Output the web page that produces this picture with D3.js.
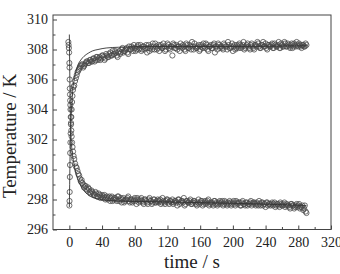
<!DOCTYPE html>
<html lang="en">
<head>
<meta charset="UTF-8">
<title>Temperature vs time</title>
<style>
  body { margin: 0; background: #fff; }
  svg { display: block; font-family: "Liberation Serif", "DejaVu Serif", serif; }
  .tick text { font-family: "Liberation Serif", serif; font-size: 14px; fill: #222; }
  .title { font-size: 19px; fill: #222; }
</style>
</head>
<body>
<script src="https://d3js.org/d3.v7.min.js"></script>
<script>
// early (fast) part of each run
const heatEarlyTime = [0, 0.2, 0.4, 0.6, 0.8, 1.0, 1.3, 1.6, 2.0, 2.4, 2.8, 3.3, 3.8, 4.4, 5.0];
const heatEarlyTemp = [297.6, 297.9, 298.5, 299.5, 300.3, 301.1, 301.8, 302.4, 303.0, 303.5, 304.0, 304.5, 304.9, 305.3, 305.5];
const coolEarlyTime = [-1.2, -0.9, -0.6, -0.3, 0, 0.2, 0.4, 0.6, 0.8, 1.0, 1.2, 1.4, 1.7, 2.0, 2.4, 2.8, 3.3, 3.9, 4.5, 5.2];
const coolEarlyTemp = [308.5, 308.3, 308.1, 307.8, 307.1, 306.8, 306.0, 305.4, 305.0, 304.6, 304.3, 304.0, 303.5, 303.1, 302.6, 302.2, 301.8, 301.5, 301.2, 300.9];

// later part: readings at even seconds (6..290) and odd seconds (7..289)
const evenTime = d3.range(6, 291, 2);
const oddTime = d3.range(7, 290, 2);
const heatTempEven = [
  305.6, 306.1, 306.5, 306.7, 306.9, 307.0, 306.9, 307.1, 307.2, 307.1,
  307.3, 307.2, 307.4, 307.3, 307.5, 307.4, 307.3, 307.6, 307.5, 307.4,
  307.6, 307.5, 307.8, 307.6, 307.7, 307.9, 307.6, 307.8, 307.7, 308.0,
  307.8, 307.9, 308.1, 307.7, 308.0, 308.2, 307.9, 308.1, 308.0, 308.3,
  308.1, 307.9, 308.2, 308.0, 308.3, 308.1, 307.9, 308.2, 308.4, 308.0,
  308.2, 308.1, 307.9, 308.3, 308.1, 308.2, 308.0, 308.4, 308.1, 308.2,
  307.6, 308.3, 308.1, 308.0, 308.2, 308.4, 308.1, 308.2, 307.9, 308.3,
  308.1, 308.2, 308.5, 308.0, 308.2, 308.1, 308.3, 308.0, 308.2, 308.4,
  308.1, 308.3, 307.9, 308.2, 308.1, 308.3, 307.8, 308.2, 308.4, 308.1,
  308.2, 308.0, 308.3, 308.2, 308.5, 308.1, 308.2, 307.9, 308.3, 308.1,
  308.2, 308.4, 308.1, 308.3, 308.0, 308.2, 308.4, 308.1, 308.3, 308.2,
  308.0, 308.3, 308.5, 308.2, 308.1, 308.3, 308.2, 308.4, 308.0, 308.3,
  308.2, 308.4, 308.1, 308.3, 308.2, 308.5, 308.1, 308.3, 308.2, 308.4,
  308.2, 308.3, 308.1, 308.4, 308.2, 308.3, 308.5, 308.2, 308.3, 308.1,
  308.3, 308.2, 308.3
];
const heatTempOdd = [
  305.9, 306.3, 306.6, 306.8, 307.0, 306.8, 307.0, 307.2, 307.1, 307.3,
  307.2, 307.4, 307.2, 307.5, 307.3, 307.5, 307.4, 307.6, 307.3, 307.7,
  307.5, 307.7, 307.6, 307.9, 307.7, 307.8, 307.5, 307.9, 307.8, 308.1,
  307.9, 308.0, 307.8, 308.2, 308.0, 308.1, 308.3, 307.9, 308.2, 308.0,
  308.3, 308.0, 308.2, 308.1, 307.8, 308.3, 308.1, 308.0, 308.2, 308.4,
  308.0, 308.3, 308.2, 308.1, 308.4, 307.9, 308.2, 308.3, 308.0, 308.2,
  308.4, 308.1, 308.3, 308.2, 307.9, 308.2, 308.3, 308.0, 308.4, 308.1,
  308.3, 308.0, 308.2, 308.4, 308.1, 308.2, 307.9, 308.3, 308.1, 308.2,
  308.4, 308.0, 308.2, 308.3, 308.1, 308.4, 308.2, 308.0, 308.3, 308.2,
  308.1, 308.4, 308.2, 308.0, 308.3, 308.1, 308.4, 308.2, 308.0, 308.3,
  308.1, 308.3, 308.2, 308.5, 308.1, 308.3, 308.2, 308.0, 308.4, 308.1,
  308.3, 308.2, 308.4, 308.1, 308.3, 308.5, 308.2, 308.1, 308.3, 308.2,
  308.3, 308.1, 308.4, 308.2, 308.3, 308.1, 308.4, 308.2, 308.5, 308.2,
  308.4, 308.2, 308.3, 308.1, 308.4, 308.2, 308.3, 308.4, 308.2, 308.3,
  308.2, 308.4
];
const coolTempEven = [
  300.7, 300.2, 299.9, 299.6, 299.2, 299.1, 298.8, 298.9, 298.6, 298.7,
  298.4, 298.5, 298.3, 298.5, 298.2, 298.4, 298.1, 298.3, 298.2, 298.0,
  298.2, 298.1, 297.9, 298.2, 298.0, 298.1, 297.9, 298.2, 298.0, 297.8,
  298.1, 297.9, 298.0, 298.2, 297.8, 298.0, 297.9, 298.1, 297.7, 298.0,
  297.9, 298.1, 297.8, 298.0, 297.9, 297.7, 298.1, 297.9, 297.8, 298.0,
  297.8, 298.0, 297.9, 297.7, 298.1, 297.8, 297.9, 298.0, 297.7, 297.9,
  298.0, 297.8, 297.9, 297.6, 298.0, 297.8, 297.9, 298.1, 297.7, 297.9,
  297.8, 298.0, 297.7, 297.9, 297.8, 297.6, 298.0, 297.8, 297.9, 297.7,
  297.9, 297.8, 298.0, 297.7, 297.8, 297.6, 297.9, 297.8, 297.7, 297.9,
  297.8, 297.6, 297.9, 297.7, 297.8, 297.9, 297.6, 297.8, 297.7, 297.9,
  297.7, 297.8, 297.6, 297.9, 297.7, 297.8, 297.6, 297.7, 297.9, 297.7,
  297.8, 297.6, 297.7, 297.9, 297.6, 297.8, 297.7, 297.5, 297.8, 297.7,
  297.6, 297.8, 297.7, 297.5, 297.7, 297.6, 297.8, 297.6, 297.7, 297.5,
  297.7, 297.6, 297.4, 297.7, 297.6, 297.5, 297.7, 297.6, 297.4, 297.5,
  297.3, 297.6, 297.1
];
const coolTempOdd = [
  300.4, 300.1, 299.7, 299.4, 299.3, 299.0, 298.9, 298.7, 298.8, 298.5,
  298.6, 298.4, 298.3, 298.4, 298.2, 298.3, 298.2, 298.1, 298.3, 298.1,
  298.0, 298.2, 298.1, 297.9, 298.1, 298.0, 298.2, 297.9, 298.1, 298.0,
  297.8, 298.0, 298.1, 297.9, 298.0, 297.8, 298.0, 297.9, 298.1, 297.8,
  298.0, 297.9, 297.7, 298.0, 297.8, 298.0, 297.9, 297.7, 298.0, 297.8,
  297.9, 297.8, 298.0, 297.8, 297.9, 297.7, 298.0, 297.8, 297.9, 297.8,
  297.7, 297.9, 297.8, 298.0, 297.7, 297.9, 297.8, 297.6, 297.9, 297.8,
  297.9, 297.7, 297.8, 297.9, 297.7, 297.8, 297.7, 297.9, 297.6, 297.8,
  297.7, 297.9, 297.6, 297.8, 297.7, 297.9, 297.7, 297.6, 297.8, 297.7,
  297.9, 297.7, 297.8, 297.6, 297.7, 297.8, 297.7, 297.9, 297.6, 297.8,
  297.8, 297.6, 297.8, 297.7, 297.6, 297.8, 297.7, 297.8, 297.6, 297.8,
  297.7, 297.8, 297.6, 297.7, 297.8, 297.6, 297.7, 297.8, 297.6, 297.7,
  297.7, 297.6, 297.8, 297.6, 297.7, 297.5, 297.7, 297.6, 297.8, 297.6,
  297.6, 297.5, 297.7, 297.6, 297.4, 297.6, 297.5, 297.7, 297.5, 297.6,
  297.4, 297.2
];

// fitted curves (solid lines)
const heatFitTime = [0, 0.5, 1, 2, 3, 4, 6, 8, 10, 14, 18, 23, 28, 35, 45, 60, 100, 200, 290];
const heatFitTemp = [297.5, 299.5, 301.3, 303.2, 304.4, 305.2, 306.0, 306.5, 306.9, 307.3, 307.55, 307.75, 307.9, 308.0, 308.1, 308.15, 308.2, 308.2, 308.25];
const coolFitTime = [0, 0.5, 1, 1.5, 2, 3, 5, 7, 10, 14, 20, 28, 40, 60, 100, 200, 290];
const coolFitTemp = [309.0, 306.5, 304.5, 303.2, 302.3, 301.4, 300.6, 300.0, 299.4, 298.9, 298.45, 298.15, 297.98, 297.9, 297.85, 297.75, 297.6];

const xTicks = [0, 40, 80, 120, 160, 200, 240, 280, 320];
const yTicks = [296, 298, 300, 302, 304, 306, 308, 310];

const width = 340, height = 274;
const margin = {top: 15, right: 9, bottom: 44.5, left: 53};

const svg = d3.select("body").append("svg")
  .attr("width", width)
  .attr("height", height);

const x = d3.scaleLinear().domain([-20, 320]).range([margin.left, width - margin.right]);
const y = d3.scaleLinear().domain([296, 310.3]).range([height - margin.bottom, margin.top]);

const ink = "#333";

// frame
svg.append("rect")
  .attr("x", x(-20)).attr("y", y(310.3))
  .attr("width", x(320) - x(-20)).attr("height", y(296) - y(310.3))
  .attr("fill", "none").attr("stroke", "#444").attr("stroke-width", 1);

function styleAxis(g) {
  g.attr("font-family", null).attr("font-size", null);
  g.select(".domain").remove();
  g.selectAll("line").attr("stroke", "#444");
}

// minor ticks
svg.append("g")
  .attr("transform", `translate(0,${y(296)})`)
  .call(d3.axisBottom(x).tickValues(d3.range(20, 320, 40)).tickSize(-2.5).tickFormat(""))
  .call(styleAxis);
svg.append("g")
  .attr("transform", `translate(${x(-20)},0)`)
  .call(d3.axisLeft(y).tickValues(d3.range(297, 310, 2)).tickSize(-2.5).tickFormat(""))
  .call(styleAxis);

// major axes
svg.append("g")
  .attr("transform", `translate(0,${y(296)})`)
  .call(d3.axisBottom(x).tickValues(xTicks).tickSize(-4).tickPadding(7.5).tickFormat(d3.format("d")))
  .call(styleAxis);
svg.append("g")
  .attr("transform", `translate(${x(-20)},0)`)
  .call(d3.axisLeft(y).tickValues(yTicks).tickSize(-4).tickPadding(5).tickFormat(d3.format("d")))
  .call(styleAxis);

// data
const pair = (ts, vs) => ts.map((t, i) => [t, vs[i]]);
const heatPts = pair(heatEarlyTime, heatEarlyTemp)
  .concat(pair(evenTime, heatTempEven), pair(oddTime, heatTempOdd));
const coolPts = pair(coolEarlyTime, coolEarlyTemp)
  .concat(pair(evenTime, coolTempEven), pair(oddTime, coolTempOdd));

const plot = svg.append("g");

[heatPts, coolPts].forEach(pts => {
  plot.append("g").selectAll("circle")
    .data(pts)
    .join("circle")
    .attr("cx", d => x(d[0]))
    .attr("cy", d => y(d[1]))
    .attr("r", 2.6)
    .attr("fill", "none")
    .attr("stroke", "#4a4a4a")
    .attr("stroke-width", 0.8);
});

const line = d3.line()
  .x(d => x(d[0]))
  .y(d => y(d[1]))
  .curve(d3.curveMonotoneX);

[pair(heatFitTime, heatFitTemp), pair(coolFitTime, coolFitTemp)].forEach(pts => {
  plot.append("path")
    .datum(pts)
    .attr("d", line)
    .attr("fill", "none")
    .attr("stroke", ink)
    .attr("stroke-width", 0.9);
});

// axis titles
svg.append("text")
  .attr("class", "title")
  .attr("x", (x(-20) + x(320)) / 2)
  .attr("y", 268)
  .attr("text-anchor", "middle")
  .text("time / s");

svg.append("text")
  .attr("class", "title")
  .attr("transform", "translate(16,136) rotate(-90)")
  .attr("text-anchor", "middle")
  .text("Temperature / K");
</script>
</body>
</html>
